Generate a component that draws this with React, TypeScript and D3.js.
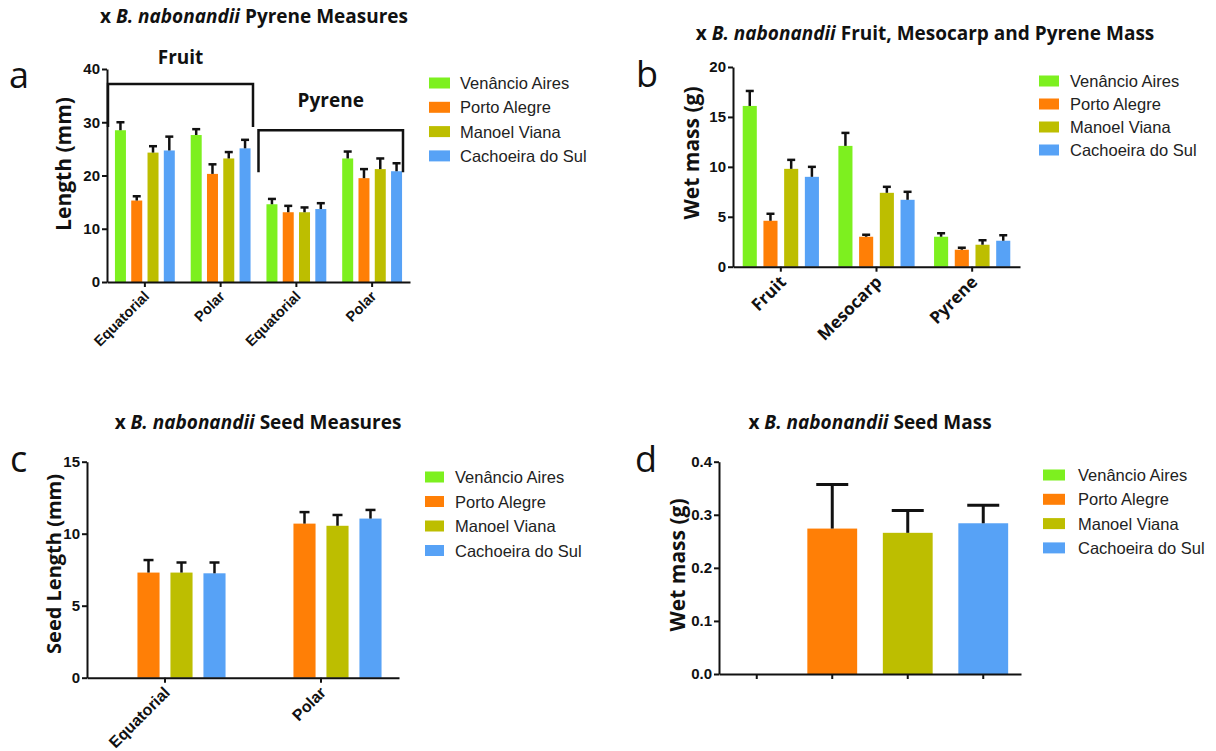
import { useEffect, useRef } from 'react';
import * as d3 from 'd3';

const series = ['Venâncio Aires', 'Porto Alegre', 'Manoel Viana', 'Cachoeira do Sul'];
const seriesColors = ['#7df01f', '#ff7f06', '#bdbe00', '#57a2f6'];

// a: pyrene measures (fruit eq/polar, pyrene eq/polar), mean + upper SD, one row per category
const measureCats = ['Equatorial', 'Polar', 'Equatorial', 'Polar'];
const measureMean = [
  [28.5, 15.3, 24.3, 24.7],
  [27.6, 20.3, 23.2, 25.1],
  [14.6, 13.1, 13.1, 13.7],
  [23.2, 19.5, 21.2, 20.8],
];
const measureErr = [
  [1.5, 0.8, 1.2, 2.6],
  [1.1, 1.8, 1.2, 1.6],
  [1.0, 1.2, 0.9, 1.1],
  [1.3, 1.7, 2.0, 1.5],
];
const measureTicks = [0, 10, 20, 30, 40];

// b: fruit, mesocarp and pyrene wet mass
const massCats = ['Fruit', 'Mesocarp', 'Pyrene'];
const massMean = [
  [16.1, 4.6, 9.8, 9.0],
  [12.1, 3.0, 7.4, 6.7],
  [3.0, 1.7, 2.2, 2.6],
];
const massErr = [
  [1.5, 0.7, 0.9, 1.0],
  [1.3, 0.2, 0.6, 0.8],
  [0.35, 0.2, 0.45, 0.55],
];
const massTicks = [0, 5, 10, 15, 20];

// c: seed measures (no data for Venâncio Aires)
const seedCats = ['Equatorial', 'Polar'];
const seedMean = [
  [null, 7.3, 7.3, 7.25],
  [null, 10.7, 10.55, 11.05],
];
const seedErr = [
  [null, 0.87, 0.7, 0.75],
  [null, 0.8, 0.75, 0.6],
];
const seedTicks = [0, 5, 10, 15];

// d: seed mass, one bar per locality
const seedMassMean = [null, 0.274, 0.266, 0.284];
const seedMassErr = [null, 0.083, 0.042, 0.034];
const seedMassTicks = [0, 0.1, 0.2, 0.3, 0.4];

const HEAD = "'Open Sans', sans-serif";
const ARIAL = "'Liberation Sans', Arial, sans-serif";

type Bar = { value: number | null; err: number | null; color: string };
type Group = { label: string; bars: Bar[] };

function toGroups(cats: string[], mean: (number | null)[][], err: (number | null)[][]): Group[] {
  return cats.map((c, i) => ({
    label: c,
    bars: mean[i].map((v, j) => ({ value: v, err: err[i][j], color: seriesColors[j] })),
  }));
}

function drawPanel(svg: any, cfg: any, groups: Group[]) {
  const g = svg.append('g');
  const x = d3
    .scaleBand()
    .domain(groups.map((_, i) => String(i)))
    .range([cfg.x0, cfg.x1])
    .padding(0);
  const y = d3.scaleLinear().domain([0, cfg.max]).range([cfg.y0, cfg.y1]);

  // bars + error bars
  groups.forEach((grp, i) => {
    const cx = (x(String(i)) as number) + x.bandwidth() / 2;
    const w = x.bandwidth() * cfg.span;
    const inner = d3
      .scaleBand()
      .domain(grp.bars.map((_, j) => String(j)))
      .range([cx - w / 2, cx + w / 2])
      .paddingInner(cfg.pad)
      .paddingOuter(cfg.pad / 2);
    grp.bars.forEach((b, j) => {
      if (b.value == null) return;
      const bx = inner(String(j)) as number;
      const bw = inner.bandwidth();
      g.append('rect')
        .attr('x', bx)
        .attr('y', y(b.value))
        .attr('width', bw)
        .attr('height', y(0) - y(b.value))
        .attr('fill', b.color);
      if (b.err == null) return;
      const mx = bx + bw / 2;
      const top = y(b.value + b.err);
      g.append('line')
        .attr('x1', mx).attr('x2', mx)
        .attr('y1', y(b.value)).attr('y2', top)
        .attr('stroke', '#111').attr('stroke-width', cfg.errW);
      g.append('line')
        .attr('x1', mx - cfg.cap / 2).attr('x2', mx + cfg.cap / 2)
        .attr('y1', top).attr('y2', top)
        .attr('stroke', '#111').attr('stroke-width', cfg.errW);
    });
  });

  // y axis
  const ya = g
    .append('g')
    .attr('transform', `translate(${cfg.x0},0)`)
    .call(
      d3.axisLeft(y).tickValues(cfg.ticks).tickSize(5).tickSizeOuter(0).tickPadding(2)
        .tickFormat(cfg.fmt ? d3.format(cfg.fmt) : (d: any) => String(d))
    );
  ya.selectAll('path,line').attr('stroke', '#111').attr('stroke-width', 2);
  ya.selectAll('text')
    .attr('fill', '#111')
    .style('font-family', ARIAL)
    .style('font-weight', 'bold')
    .style('font-size', '15px');

  // x axis
  const xa = g
    .append('g')
    .attr('transform', `translate(0,${cfg.y0})`)
    .call(d3.axisBottom(x).tickSize(5).tickSizeOuter(0).tickFormat(() => ''));
  xa.selectAll('path,line').attr('stroke', '#111').attr('stroke-width', 2);
  xa.selectAll('text').remove();

  if (cfg.xLabels) {
    groups.forEach((grp, i) => {
      const cx = (x(String(i)) as number) + x.bandwidth() / 2;
      g.append('text')
        .attr('transform', `translate(${cx - 2},${cfg.y0 + 8}) rotate(-45)`)
        .attr('text-anchor', 'end')
        .attr('dy', '0.7em')
        .style('font-family', cfg.xFont)
        .style('font-weight', 'bold')
        .style('font-size', cfg.xSize + 'px')
        .attr('fill', '#111')
        .text(grp.label);
    });
  }

  // y title
  g.append('text')
    .attr('transform', `translate(${cfg.yt[0]},${cfg.yt[1]}) rotate(-90)`)
    .attr('text-anchor', 'middle')
    .attr('dominant-baseline', 'central')
    .style('font-family', HEAD)
    .style('font-weight', 'bold')
    .style('font-size', (cfg.ytSize || 21) + 'px')
    .attr('fill', '#111')
    .text(cfg.yTitle);

  // chart title
  const t = g
    .append('text')
    .attr('x', cfg.title[0])
    .attr('y', cfg.title[1])
    .attr('text-anchor', 'middle')
    .style('font-family', HEAD)
    .style('font-weight', 'bold')
    .style('font-size', '19px')
    .attr('fill', '#111');
  t.append('tspan').text('x ');
  t.append('tspan').style('font-style', 'italic').text('B. nabonandii');
  t.append('tspan').text(' ' + cfg.titleText);

  // panel letter
  g.append('text')
    .attr('x', cfg.letter[0])
    .attr('y', cfg.letter[1])
    .style('font-family', HEAD)
    .style('font-size', '36px')
    .attr('fill', '#111')
    .text(cfg.letterText);

  // legend
  series.forEach((s, i) => {
    const ly = cfg.legend[1] + i * cfg.legend[2];
    g.append('rect')
      .attr('x', cfg.legend[0])
      .attr('y', ly - 5.5)
      .attr('width', cfg.legend[3])
      .attr('height', 11)
      .attr('fill', seriesColors[i]);
    g.append('text')
      .attr('x', cfg.legend[0] + cfg.legend[4])
      .attr('y', ly)
      .attr('dominant-baseline', 'central')
      .style('font-family', ARIAL)
      .style('font-size', '16.5px')
      .attr('fill', '#222')
      .text(s);
  });

  return { x, y, g };
}

export default function App() {
  const ref = useRef<SVGSVGElement>(null);

  useEffect(() => {
    const svg = d3.select(ref.current);
    svg.selectAll('*').remove();

    // a
    const a = drawPanel(
      svg,
      {
        x0: 107, x1: 410, y0: 282, y1: 69, max: 40, ticks: measureTicks,
        span: 0.86, pad: 0.325, cap: 8, errW: 2.5,
        xLabels: true, xFont: ARIAL, xSize: 14.5,
        yTitle: 'Length (mm)', yt: [63, 164],
        title: [254, 23], titleText: 'Pyrene Measures',
        letter: [9, 88], letterText: 'a',
        legend: [429, 83, 24.3, 21, 31],
      },
      toGroups(measureCats, measureMean, measureErr)
    );
    // Fruit / Pyrene brackets
    const brackets = [
      { label: 'Fruit', from: 0, to: 1, top: 37.2, bottom: 29.1, l: 1, r: -5.5, labelY: 64 },
      { label: 'Pyrene', from: 2, to: 3, top: 28.5, bottom: 20.6, l: 0, r: -7, labelY: 107 },
    ];
    brackets.forEach((b) => {
      const xl = (a.x(String(b.from)) as number) + b.l;
      const xr = (a.x(String(b.to)) as number) + a.x.bandwidth() + b.r;
      a.g.append('path')
        .attr('d', `M${xl},${a.y(b.bottom)}V${a.y(b.top)}H${xr}V${a.y(b.bottom)}`)
        .attr('fill', 'none')
        .attr('stroke', '#111')
        .attr('stroke-width', 2.5);
      a.g.append('text')
        .attr('x', (xl + xr) / 2)
        .attr('y', b.labelY)
        .attr('text-anchor', 'middle')
        .style('font-family', HEAD)
        .style('font-weight', 'bold')
        .style('font-size', '19px')
        .attr('fill', '#111')
        .text(b.label);
    });

    // b
    drawPanel(
      svg,
      {
        x0: 733, x1: 1020, y0: 266.7, y1: 67, max: 20, ticks: massTicks,
        span: 0.866, pad: 0.32, cap: 8, errW: 2.5,
        xLabels: true, xFont: HEAD, xSize: 17,
        yTitle: 'Wet mass (g)', yt: [691, 153],
        title: [925, 40], titleText: 'Fruit, Mesocarp and Pyrene Mass',
        letter: [636, 87], letterText: 'b',
        legend: [1039, 81, 23, 20, 31],
      },
      toGroups(massCats, massMean, massErr)
    );

    // c
    drawPanel(
      svg,
      {
        x0: 87, x1: 399, y0: 677.7, y1: 461.7, max: 15, ticks: seedTicks,
        span: 0.846, pad: 0.33, cap: 10, errW: 2.5,
        xLabels: true, xFont: ARIAL, xSize: 16,
        yTitle: 'Seed Length (mm)', yt: [53, 564], ytSize: 20,
        title: [258, 429], titleText: 'Seed Measures',
        letter: [10, 472], letterText: 'c',
        legend: [425, 477, 24.5, 19, 30],
      },
      toGroups(seedCats, seedMean, seedErr)
    );

    // d
    drawPanel(
      svg,
      {
        x0: 719, x1: 1021, y0: 674, y1: 461.7, max: 0.4, ticks: seedMassTicks, fmt: '.1f',
        span: 0.66, pad: 0, cap: 32, errW: 3,
        xLabels: false,
        yTitle: 'Wet mass (g)', yt: [677, 565],
        title: [870, 429], titleText: 'Seed Mass',
        letter: [635, 472], letterText: 'd',
        legend: [1043, 475, 24.3, 22, 35],
      },
      series.map((s, i) => ({
        label: s,
        bars: [{ value: seedMassMean[i], err: seedMassErr[i], color: seriesColors[i] }],
      }))
    );
  }, []);

  return (
    <div style={{ position: 'absolute', left: 0, top: 0 }}>
      <svg ref={ref} width={1216} height={751} style={{ display: 'block', background: '#fff' }} />
    </div>
  );
}
